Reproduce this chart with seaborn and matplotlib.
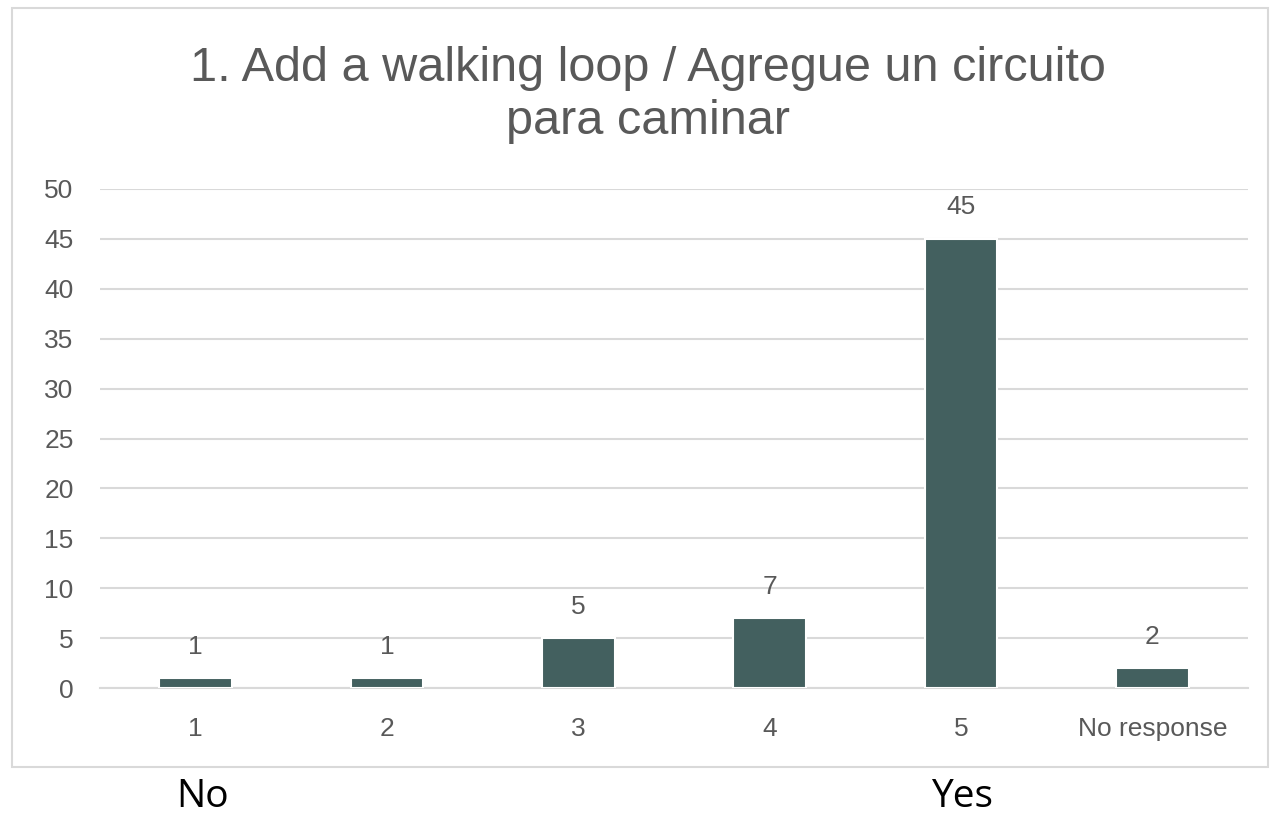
import matplotlib
matplotlib.use("Agg")
import matplotlib.pyplot as plt
import seaborn as sns
import pandas as pd
from matplotlib.patches import Rectangle
from matplotlib.ticker import FixedLocator

# data
categories = ["1", "2", "3", "4", "5", "No response"]
counts = [1, 1, 5, 7, 45, 2]
title = "1. Add a walking loop / Agregue un circuito\npara caminar"

sns.set_style("white")
plt.rcParams['font.family'] = ['Liberation Sans', 'DejaVu Sans']

BAR = '#43605F'
GRID = '#D9D9D9'
TXT = '#595959'

df = pd.DataFrame({'category': categories, 'count': counts})

W, H = 1276, 815
fig = plt.figure(figsize=(W / 100, H / 100), dpi=100)
ax = fig.add_axes([100 / W, 1 - 688 / H, 1148 / W, 499 / H])

sns.barplot(data=df, x='category', y='count', color=BAR, width=0.38,
            edgecolor='white', linewidth=1.5, saturation=1, ax=ax, zorder=3)

ax.set_ylim(0, 50)
ax.set_xlim(-0.5, len(categories) - 0.5)
ax.set_yticks(range(0, 51, 5))
ax.yaxis.grid(True, color=GRID, linewidth=1.5, zorder=0)
ax.set_axisbelow(True)
for s in ['left', 'right', 'top']:
    ax.spines[s].set_visible(False)
ax.spines['bottom'].set_color(GRID)
ax.spines['bottom'].set_linewidth(1.5)

ax.tick_params(axis='y', length=0, pad=19, labelsize=19, labelcolor=TXT)
ax.tick_params(axis='x', which='major', length=0, pad=21, labelsize=19, labelcolor=TXT)
ax.xaxis.set_minor_locator(FixedLocator([i - 0.5 for i in range(len(categories) + 1)]))
ax.tick_params(axis='x', which='minor', length=7, width=1.5, color=GRID, direction='out')
ax.set_xlabel('')
ax.set_ylabel('')

for c in ax.containers:
    ax.bar_label(c, labels=[str(v) for v in counts], padding=14, fontsize=19, color=TXT)

fig.text(648 / W, 1 - 46 / H, title, ha='center', va='top', fontsize=35,
         color=TXT, linespacing=1.22)

# outer chart border
fig.patches.append(Rectangle((12 / W, 1 - 767 / H), 1256 / W, 759 / H,
                             transform=fig.transFigure, fill=False,
                             edgecolor=GRID, linewidth=1.5))

# No / Yes labels below the chart
fig.text(203 / W, 1 - 797 / H, 'No', ha='center', va='center', fontsize=28,
         family=['Open Sans', 'DejaVu Sans'], color='black')
fig.text(962 / W, 1 - 797 / H, 'Yes', ha='center', va='center', fontsize=28,
         family=['Open Sans', 'DejaVu Sans'], color='black')

fig.savefig('out.png', dpi=100, facecolor='white')
